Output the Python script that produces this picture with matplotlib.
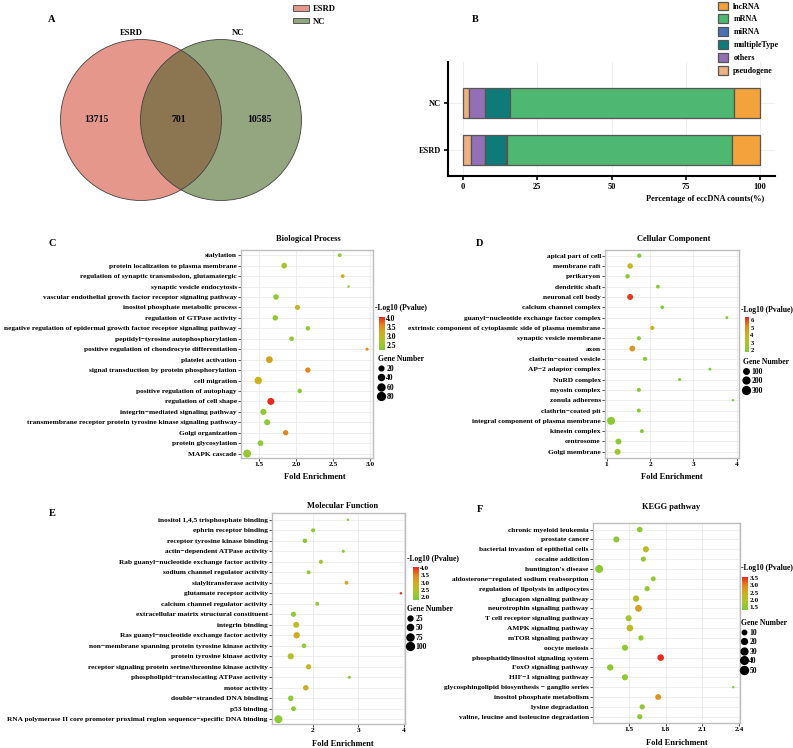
import numpy as np
import matplotlib.pyplot as plt
from matplotlib.patches import Circle, Patch
from matplotlib.lines import Line2D
from matplotlib.colors import LinearSegmentedColormap, Normalize
from matplotlib.cm import ScalarMappable

plt.rcParams['font.family'] = ['Liberation Serif', 'DejaVu Serif']
plt.rcParams['font.weight'] = 'bold'
plt.rcParams['axes.labelweight'] = 'bold'

# ---- data ----
venn_sets = ['ESRD', 'NC']
venn_counts = [13715, 701, 10585]  # ESRD only, shared, NC only

b_groups = ['ESRD', 'NC']
b_types = ['pseudogene', 'others', 'multipleType', 'miRNA', 'mRNA', 'lncRNA']
b_esrd = [2.6, 4.8, 7.2, 0.1, 76.0, 9.3]
b_nc = [2.2, 5.4, 8.1, 0.1, 75.4, 8.8]
b_colors = ['#EDB083', '#9370B5', '#0F7B78', '#4A6FB5', '#4EB872', '#F4A23B']

bp_terms = ['sialylation', 'protein localization to plasma membrane',
            'regulation of synaptic transmission, glutamatergic', 'synaptic vesicle endocytosis',
            'vascular endothelial growth factor receptor signaling pathway',
            'inositol phosphate metabolic process', 'regulation of GTPase activity',
            'negative regulation of epidermal growth factor receptor signaling pathway',
            'peptidyl\u2212tyrosine autophosphorylation',
            'positive regulation of chondrocyte differentiation', 'platelet activation',
            'signal transduction by protein phosphorylation', 'cell migration',
            'positive regulation of autophagy', 'regulation of cell shape',
            'integrin\u2212mediated signaling pathway',
            'transmembrane receptor protein tyrosine kinase signaling pathway',
            'Golgi organization', 'protein glycosylation', 'MAPK cascade']
bp_fold = [2.59, 1.84, 2.63, 2.71, 1.73, 2.02, 1.72, 2.16, 1.94, 2.96,
           1.64, 2.16, 1.49, 2.05, 1.66, 1.56, 1.61, 1.86, 1.52, 1.34]
bp_genes = [12, 35, 12, 8, 32, 25, 30, 18, 20, 9, 55, 28, 70, 18, 60, 42, 40, 28, 35, 85]
bp_logp = [2.5, 2.7, 3.2, 2.4, 2.4, 3.0, 2.4, 2.5, 2.4, 3.5,
           3.3, 3.6, 3.1, 2.4, 4.05, 2.4, 2.4, 3.6, 2.4, 2.5]

cc_terms = ['apical part of cell', 'membrane raft', 'perikaryon', 'dendritic shaft',
            'neuronal cell body', 'calcium channel complex',
            'guanyl\u2212nucleotide exchange factor complex',
            'extrinsic component of cytoplasmic side of plasma membrane',
            'synaptic vesicle membrane', 'axon', 'clathrin\u2212coated vesicle',
            'AP\u22122 adaptor complex', 'NuRD complex', 'myosin complex', 'zonula adherens',
            'clathrin\u2212coated pit', 'integral component of plasma membrane',
            'kinesin complex', 'centrosome', 'Golgi membrane']
cc_fold = [1.75, 1.54, 1.48, 2.18, 1.54, 2.28, 3.77, 2.05, 1.74, 1.59,
           1.88, 3.38, 2.68, 1.74, 3.91, 1.74, 1.10, 1.81, 1.27, 1.25]
cc_genes = [40, 100, 45, 25, 130, 20, 8, 35, 35, 120, 35, 8, 10, 30, 6, 30, 320, 28, 130, 140]
cc_logp = [2.1, 3.8, 2.1, 2.0, 6.2, 2.0, 2.0, 4.2, 2.0, 4.8,
           2.1, 1.9, 2.0, 2.0, 2.0, 2.0, 2.2, 2.0, 2.2, 2.7]

mf_terms = ['inositol 1,4,5 trisphosphate binding', 'ephrin receptor binding',
            'receptor tyrosine kinase binding', 'actin\u2212dependent ATPase activity',
            'Rab guanyl\u2212nucleotide exchange factor activity',
            'sodium channel regulator activity', 'sialyltransferase activity',
            'glutamate receptor activity', 'calcium channel regulator activity',
            'extracellular matrix structural constituent', 'integrin binding',
            'Ras guanyl\u2212nucleotide exchange factor activity',
            'non\u2212membrane spanning protein tyrosine kinase activity',
            'protein tyrosine kinase activity',
            'receptor signaling protein serine/threonine kinase activity',
            'phospholipid\u2212translocating ATPase activity', 'motor activity',
            'double\u2212stranded DNA binding', 'p53 binding',
            'RNA polymerase II core promoter proximal region sequence\u2212specific DNA binding']
mf_fold = [2.77, 2.01, 1.83, 2.67, 2.18, 1.91, 2.74, 3.93, 2.10, 1.58,
           1.64, 1.65, 1.81, 1.52, 1.91, 2.80, 1.85, 1.52, 1.58, 1.25]
mf_genes = [6, 14, 20, 7, 14, 13, 11, 6, 12, 30, 45, 55, 20, 50, 30, 7, 35, 35, 25, 105]
mf_logp = [2.0, 2.0, 2.0, 2.0, 2.3, 2.0, 3.1, 4.0, 2.1, 2.0,
           2.7, 3.0, 2.0, 2.5, 2.8, 2.0, 3.0, 2.0, 2.0, 2.0]

kegg_terms = ['chronic myeloid leukemia', 'prostate cancer',
              'bacterial invasion of epithelial cells', 'cocaine addiction',
              "huntington's disease", 'aldosterone\u2212regulated sodium reabsorption',
              'regulation of lipolysis in adipocytes', 'glucagon signaling pathway',
              'neurotrophin signaling pathway', 'T cell receptor signaling pathway',
              'AMPK signaling pathway', 'mTOR signaling pathway', 'oocyte meiosis',
              'phosphatidylinositol signaling system', 'FoxO signaling pathway',
              'HIF\u22121 signaling pathway',
              'glycosphingolipid biosynthesis \u2212 ganglio series',
              'inositol phosphate metabolism', 'lysine degradation',
              'valine, leucine and isoleucine degradation']
kegg_fold = [1.59, 1.40, 1.64, 1.62, 1.26, 1.70, 1.65, 1.56, 1.58, 1.50,
             1.51, 1.60, 1.47, 1.76, 1.35, 1.47, 2.35, 1.74, 1.61, 1.59]
kegg_genes = [18, 22, 22, 14, 45, 13, 15, 24, 30, 22, 28, 16, 22, 28, 25, 22, 5, 20, 15, 15]
kegg_logp = [1.5, 1.5, 2.2, 1.6, 1.5, 1.6, 1.6, 2.1, 2.7, 1.8,
             2.2, 1.6, 1.6, 3.55, 1.5, 1.5, 1.5, 2.8, 1.6, 1.6]

# ---- figure helpers (pixel layout) ----
W, H = 793, 748
fig = plt.figure(figsize=(W / 100, H / 100), dpi=100)


def box(l, t, r, b):
    return [l / W, 1 - b / H, (r - l) / W, (b - t) / H]


def fx(x):
    return x / W


def fy(y):
    return 1 - y / H


cmap = LinearSegmentedColormap.from_list(
    'gp', ['#7CCB3A', '#A9C52C', '#CDB020', '#E2861B', '#E8271E'])

# ---- A: venn ----
axa = fig.add_axes(box(0, 0, 400, 230))
axa.set_xlim(0, 400)
axa.set_ylim(230, 0)
axa.axis('off')
c1 = Circle((141, 120), 80.5, facecolor='#E6978C', edgecolor='none')
c2 = Circle((221, 120), 80.5, facecolor='#94A67F', edgecolor='none')
axa.add_patch(c1)
axa.add_patch(c2)
c3 = Circle((221, 120), 80.5, facecolor='#8C7551', edgecolor='none')
axa.add_patch(c3)
c3.set_clip_path(c1)
for c in [(141, 120), (221, 120)]:
    axa.add_patch(Circle(c, 80.5, facecolor='none', edgecolor='#444444', lw=0.6))
for xpos, n in zip([96, 179, 259], venn_counts):
    axa.text(xpos, 120, str(n), ha='center', va='center', fontsize=7)
axa.text(131, 33, venn_sets[0], ha='center', va='center', fontsize=6.2)
axa.text(238, 33, venn_sets[1], ha='center', va='center', fontsize=6.2)
fig.legend([Patch(facecolor='#E6978C', edgecolor='#444444', lw=0.6),
            Patch(facecolor='#94A67F', edgecolor='#444444', lw=0.6)], venn_sets,
           loc='upper left', bbox_to_anchor=(fx(293), fy(5)), frameon=False,
           fontsize=6.2, handlelength=1.9, handleheight=0.6, handletextpad=0.4,
           labelspacing=0.55, borderpad=0, borderaxespad=0)

# ---- B: stacked bars ----
axb = fig.add_axes(box(448, 62, 775, 176))
left = np.zeros(2)
bars = []
for t, v1, v2, col in zip(b_types, b_esrd, b_nc, b_colors):
    vals = np.array([v1, v2])
    bars.append(axb.barh(b_groups, vals, left=left, height=0.62, color=col,
                         edgecolor='#555555', lw=0.9, zorder=3))
    left += vals
axb.set_xlim(-5, 105)
axb.set_ylim(-0.553, 1.872)
axb.set_xticks([0, 25, 50, 75, 100])
axb.grid(color='#EBEBEB', lw=0.6)
axb.set_axisbelow(True)
for s in ['top', 'right']:
    axb.spines[s].set_visible(False)
for s in ['left', 'bottom']:
    axb.spines[s].set_linewidth(1.5)
axb.tick_params(labelsize=6, length=3, width=1.2, pad=2)
fig.text(fx(705), fy(199), 'Percentage of eccDNA counts(%)', ha='center', va='center',
         fontsize=6)
fig.legend([b[0] for b in bars[::-1]], b_types[::-1], loc='upper left',
           bbox_to_anchor=(fx(718), fy(1.5)), frameon=False, fontsize=5.8,
           handlelength=1.3, handleheight=1.3, handletextpad=0.6, labelspacing=0.47,
           borderpad=0, borderaxespad=0)


# ---- bubble panels ----
def bubble(rect, terms, fold, genes, logp, xlim, xticks, xfmt, vlim, cticks, cb_rect,
           keys, pads, title, title_xy, xlab_xy, letter, letter_xy, cbt_xy, leg_xy,
           cb_fs=5.5):
    lo, hi = min(genes), max(genes)

    def diam(g):
        f = np.clip((np.asarray(g, float) - lo) / (hi - lo), 0, 1)
        return (2.5 + 5.5 * np.sqrt(f)) * 0.72

    ax = fig.add_axes(box(*rect))
    norm = Normalize(*vlim)
    ax.scatter(fold, terms, s=diam(genes) ** 2, c=logp, cmap=cmap, norm=norm,
               linewidths=0, zorder=3)
    ax.set_ylim(len(terms) - 1 + pads[1], -pads[0])
    ax.set_xlim(*xlim)
    ax.set_xticks(xticks)
    ax.set_xticklabels([xfmt.format(v) for v in xticks])
    ax.grid(color='#EBEBEB', lw=0.6)
    ax.set_axisbelow(True)
    for s in ax.spines.values():
        s.set_color('#BDBDBD')
        s.set_linewidth(1.0)
    ax.tick_params(labelsize=5.3, length=2, width=0.6, color='#333333', pad=1)
    fig.text(fx(title_xy[0]), fy(title_xy[1]), title, ha='center', va='center', fontsize=6)
    fig.text(fx(xlab_xy[0]), fy(xlab_xy[1]), 'Fold Enrichment', ha='center', va='center',
             fontsize=6)
    fig.text(fx(letter_xy[0]), fy(letter_xy[1]), letter, ha='center', va='center', fontsize=7.5)

    cax = fig.add_axes(box(*cb_rect))
    cb = fig.colorbar(ScalarMappable(norm=norm, cmap=cmap), cax=cax)
    cb.outline.set_visible(False)
    cb.set_ticks(cticks)
    cax.tick_params(labelsize=cb_fs, length=0, pad=1)
    fig.text(fx(cbt_xy[0]), fy(cbt_xy[1]), '-Log10 (Pvalue)', ha='left', va='center',
             fontsize=5.5)
    handles = [Line2D([], [], ls='', marker='o', color='black', markersize=diam(k))
               for k in keys]
    fig.legend(handles, [str(k) for k in keys], title='Gene Number', loc='upper left',
               bbox_to_anchor=(fx(leg_xy[0]), fy(leg_xy[1])), frameon=False,
               fontsize=5.5, title_fontsize=5.5, handlelength=0.8, handletextpad=0.3,
               labelspacing=0.2, borderpad=0, borderaxespad=0, alignment='left')


bubble((241, 250, 373, 458), bp_terms, bp_fold, bp_genes, bp_logp,
       (1.257, 3.04), [1.5, 2.0, 2.5, 3.0], '{:.1f}', (2.22, 4.06), [2.5, 3.0, 3.5, 4.0],
       (379, 317, 385, 350), [20, 40, 60, 80], (0.5, 0.42), 'Biological Process',
       (308, 239), (315, 477), 'C', (52, 243), (375, 308), (378, 355))
bubble((605, 250, 739, 458), cc_terms, cc_fold, cc_genes, cc_logp,
       (0.96, 4.05), [1, 2, 3, 4], '{:d}', (1.8, 6.4), [2, 3, 4, 5, 6],
       (745, 317, 749, 352), [100, 200, 300], (0.55, 0.6), 'Cellular Component',
       (674, 239), (672, 477), 'D', (480, 243), (741, 310), (743, 358), cb_fs=4.8)
bubble((272, 513, 405, 724), mf_terms, mf_fold, mf_genes, mf_logp,
       (1.11, 4.02), [2, 3, 4], '{:d}', (1.8, 4.07), [2.0, 2.5, 3.0, 3.5, 4.0],
       (413, 567, 419, 600), [25, 50, 75, 100], (0.65, 0.45), 'Molecular Function',
       (343, 506), (343, 744), 'E', (52, 513), (407, 559), (407, 605), cb_fs=5.2)
bubble((593, 523, 740, 723), kegg_terms, kegg_fold, kegg_genes, kegg_logp,
       (1.21, 2.405), [1.5, 1.8, 2.1, 2.4], '{:.1f}', (1.3, 3.57), [1.5, 2.0, 2.5, 3.0, 3.5],
       (742, 577, 748, 610), [10, 20, 30, 40, 50], (0.67, 0.64), 'KEGG pathway',
       (671, 507), (677, 743), 'F', (480, 510), (741, 568), (741, 619), cb_fs=5.2)

fig.text(fx(52), fy(20), 'A', ha='center', va='center', fontsize=7.5)
fig.text(fx(475), fy(20), 'B', ha='center', va='center', fontsize=7.5)

fig.savefig('out.png', dpi=100)
